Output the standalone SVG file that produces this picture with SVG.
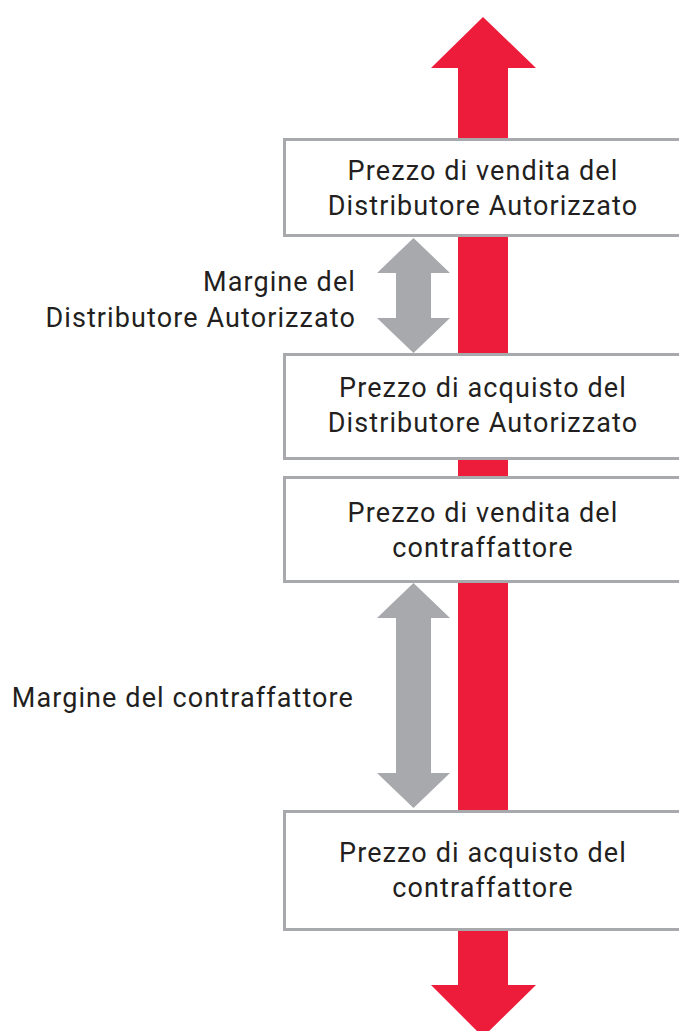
<svg xmlns="http://www.w3.org/2000/svg" width="679" height="1031" viewBox="0 0 679 1031">
<style>
.box{fill:#ffffff;stroke:#a7a9ac;stroke-width:3}
.txt{font-family:Roboto,"Liberation Sans",sans-serif;font-size:27px;letter-spacing:1.1px;fill:#231f20}
.c{text-anchor:middle}
.r{text-anchor:end}
.red{fill:#ed1c3a}
.gray{fill:#a7a9ac}
</style>
<rect width="679" height="1031" fill="#ffffff"/>
<g id="connectors">
<path class="red" d="M483,17 L536,68 L508,68 L508,985 L536,985 L483,1037 L431,985 L458,985 L458,68 L431,68 Z"/>
</g>
<g id="node-vendita-distributore">
<rect class="box" x="284.5" y="139.5" width="420" height="96"/>
<text class="txt c" x="483" y="180">Prezzo di vendita del</text>
<text class="txt c" x="483" y="215">Distributore Autorizzato</text>
</g>
<g id="node-acquisto-distributore">
<rect class="box" x="284.5" y="354.5" width="420" height="104"/>
<text class="txt c" x="483" y="397">Prezzo di acquisto del</text>
<text class="txt c" x="483" y="432">Distributore Autorizzato</text>
</g>
<g id="node-vendita-contraffattore">
<rect class="box" x="284.5" y="477.5" width="420" height="104"/>
<text class="txt c" x="483" y="522">Prezzo di vendita del</text>
<text class="txt c" x="483" y="557">contraffattore</text>
</g>
<g id="node-acquisto-contraffattore">
<rect class="box" x="284.5" y="811.5" width="420" height="118"/>
<text class="txt c" x="483" y="862">Prezzo di acquisto del</text>
<text class="txt c" x="483" y="897">contraffattore</text>
</g>
<g id="margin-arrows">
<path class="gray" d="M413.5,238 L450,273 L431,273 L431,318 L450,318 L413.5,353 L377,318 L396,318 L396,273 L377,273 Z"/>
<path class="gray" d="M413.5,583 L450,618 L431,618 L431,773 L450,773 L413.5,808 L377,773 L396,773 L396,618 L377,618 Z"/>
</g>
<g id="label-margine-distributore">
<text class="txt r" x="356" y="291">Margine del</text>
<text class="txt r" x="356" y="327">Distributore Autorizzato</text>
</g>
<g id="label-margine-contraffattore">
<text class="txt r" x="354" y="707">Margine del contraffattore</text>
</g>
</svg>
